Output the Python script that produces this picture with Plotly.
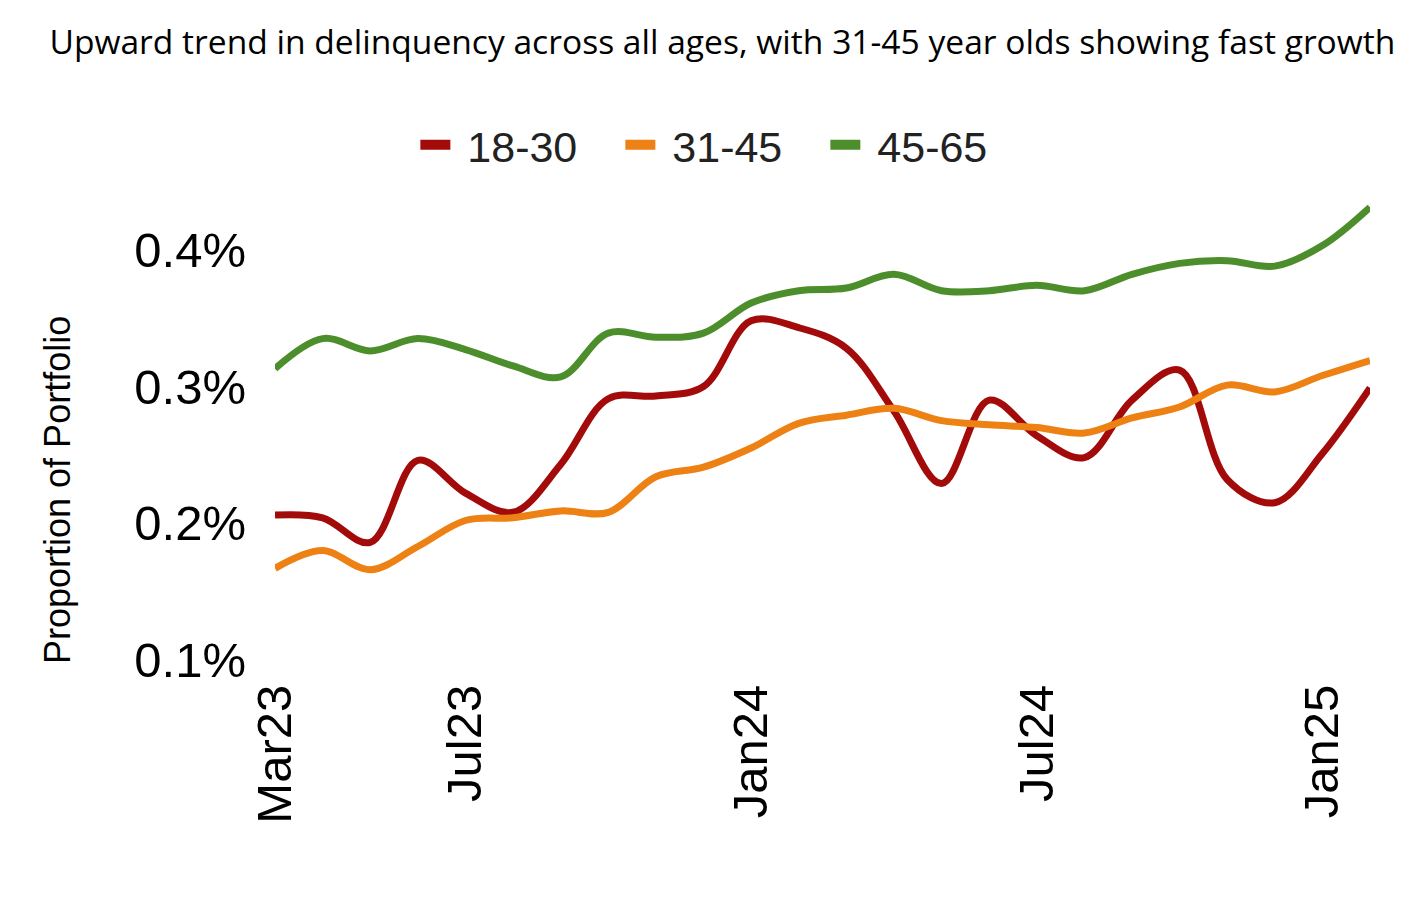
import plotly.graph_objects as go

months = ["Mar23", "Apr23", "May23", "Jun23", "Jul23", "Aug23", "Sep23", "Oct23",
          "Nov23", "Dec23", "Jan24", "Feb24", "Mar24", "Apr24", "May24", "Jun24",
          "Jul24", "Aug24", "Sep24", "Oct24", "Nov24", "Dec24", "Jan25", "Feb25"]

age_18_30 = [0.206, 0.204, 0.186, 0.246, 0.222, 0.208, 0.243, 0.291, 0.293, 0.300,
             0.348, 0.343, 0.328, 0.282, 0.229, 0.290, 0.264, 0.248, 0.290, 0.312,
             0.232, 0.215, 0.251, 0.299]
age_31_45 = [0.167, 0.180, 0.166, 0.183, 0.202, 0.204, 0.209, 0.208, 0.234, 0.241,
             0.255, 0.273, 0.279, 0.284, 0.275, 0.272, 0.270, 0.266, 0.277, 0.285,
             0.301, 0.296, 0.308, 0.319]
age_45_65 = [0.313, 0.335, 0.326, 0.335, 0.327, 0.315, 0.307, 0.339, 0.336, 0.339,
             0.361, 0.370, 0.372, 0.382, 0.370, 0.370, 0.374, 0.370, 0.382, 0.390,
             0.392, 0.388, 0.403, 0.431]

series_names = ["18-30", "31-45", "45-65"]
series_colors = ["#A30B0B", "#EE8114", "#4D8E2C"]

x_tick_vals = ["Mar23", "Jul23", "Jan24", "Jul24", "Jan25"]
y_tick_vals = [0.1, 0.2, 0.3, 0.4]
y_tick_text = ["0.1%", "0.2%", "0.3%", "0.4%"]

FONT = "Liberation Sans, Arial"

fig = go.Figure()
for name, vals, col in zip(series_names, [age_18_30, age_31_45, age_45_65], series_colors):
    fig.add_trace(go.Scatter(
        x=months, y=vals, name=name, mode="lines", showlegend=False,
        line=dict(color=col, width=7, shape="spline", smoothing=1.0),
        cliponaxis=False,
    ))
# legend entries (thicker symbol like the reference)
for name, col in zip(series_names, series_colors):
    fig.add_trace(go.Scatter(
        x=[months[0]], y=[None], name="\u00a0" + name, mode="lines", showlegend=True,
        line=dict(color=col, width=10),
    ))

fig.update_layout(
    width=1426, height=900,
    paper_bgcolor="white", plot_bgcolor="white",
    margin=dict(l=267, r=64, t=187, b=248),
    title=dict(
        text="Upward trend in delinquency across all ages, with 31-45 year olds showing fast growth",
        x=0.501, xanchor="center", xref="container",
        y=1 - 34 / 900, yanchor="middle", yref="container",
        font=dict(family="Open Sans", size=33.6, color="black"),
    ),
    legend=dict(
        orientation="h", x=0.409, xanchor="center", y=1.108, yanchor="middle",
        font=dict(family=FONT, size=43, color="#222"),
        itemwidth=30, entrywidth=160, bgcolor="rgba(0,0,0,0)",
    ),
    showlegend=True,
    annotations=[dict(
        text="Proportion of Portfolio", textangle=-90,
        xref="paper", yref="paper",
        x=(57 - 275) / 1095, y=(660 - 490) / 465,
        xanchor="center", yanchor="middle", showarrow=False,
        font=dict(family=FONT, size=36, color="black"),
    )],
)

fig.update_xaxes(
    type="category", categoryorder="array", categoryarray=months,
    range=[0, len(months) - 1],
    tickmode="array", tickvals=x_tick_vals, ticktext=x_tick_vals,
    tickangle=-90, showgrid=False, zeroline=False, showline=False,
    ticks="", ticklabelstandoff=14,
    tickfont=dict(family=FONT, size=49, color="black"),
)
fig.update_yaxes(
    range=[0.1, 0.44],
    tickmode="array", tickvals=y_tick_vals, ticktext=y_tick_text,
    showgrid=False, zeroline=False, showline=False, ticks="",
    ticklabelstandoff=28,
    tickfont=dict(family=FONT, size=49, color="black"),
)

fig.write_html("out.html")
